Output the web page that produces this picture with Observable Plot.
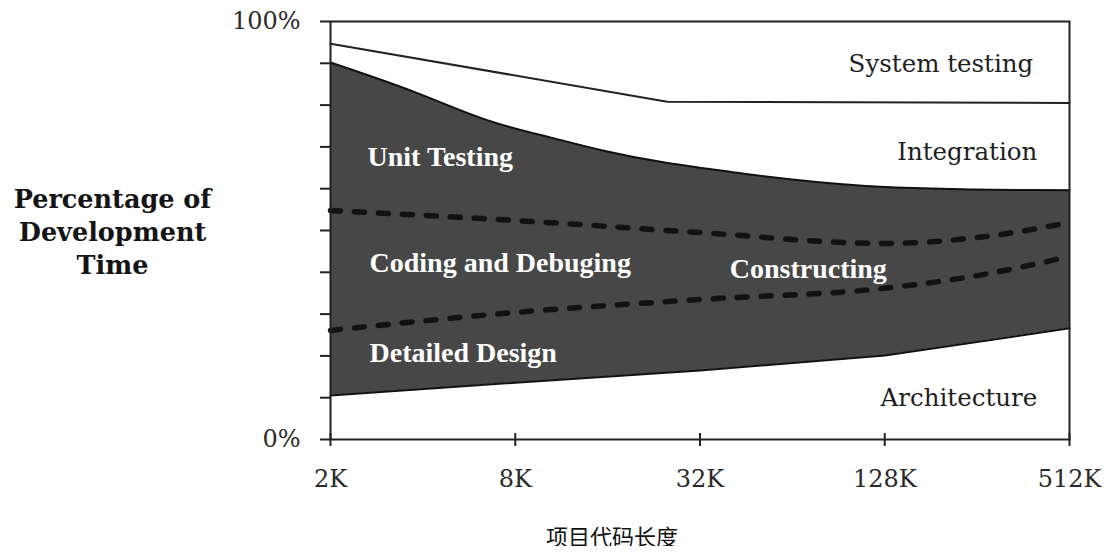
<!DOCTYPE html>
<html><head><meta charset="utf-8">
<script src="https://cdn.jsdelivr.net/npm/d3@7"></script>
<script src="https://cdn.jsdelivr.net/npm/@observablehq/plot@0.6"></script>
<style>
body{margin:0;background:#fff;}
svg{display:block}
#caption{width:992px;padding-left:116px;text-align:center;font-family:"Noto Sans CJK SC";font-size:22px;line-height:22px;color:#111;}
</style></head><body>
<div id="chart"></div>
<div id="caption">项目代码长度</div>
<script>
// Code size in K lines (x) and cumulative percentage of development time (y)
const xTicks = [2, 8, 32, 128, 512];
const xTickLabels = ["2K", "8K", "32K", "128K", "512K"];
const yTicks = [0, 10, 20, 30, 40, 50, 60, 70, 80, 90, 100];

// Boundary: below "System testing"
const systemX = [2, 25, 512];
const systemY = [94.7, 80.8, 80.5];
// Boundary: below "Integration" (top of construction)
const integrationX = [2, 3.9, 6.5, 10.6, 15.2, 25, 37, 100, 512];
const integrationY = [90.2, 83.0, 75.8, 72.2, 69.1, 66.0, 64.4, 60.0, 59.6];
// Dashed boundary: Unit Testing / Coding and Debuging
const unitX = [2, 8, 32, 128, 256, 512];
const unitY = [54.8, 52.4, 49.5, 46.9, 48.3, 51.9];
// Dashed boundary: Coding and Debuging / Detailed Design
const codingX = [2, 8, 32, 128, 256, 512];
const codingY = [26.1, 30.4, 33.5, 36.2, 39.2, 43.8];
// Boundary: top of "Architecture"
const architectureX = [2, 8, 32, 128, 512];
const architectureY = [10.5, 13.6, 16.5, 20.1, 26.6];

// Labels inside the construction band
const innerNames = ["Unit Testing", "Coding and Debuging", "Detailed Design", "Constructing"];
const innerX = [2.64, 2.68, 2.68, 40];
const innerY = [67.5, 42.3, 20.8, 40.9];
// Labels in the white bands
const outerNames = ["System testing", "Integration", "Architecture"];
const outerX = [390, 402, 402];
const outerY = [89.7, 68.7, 10.0];

const yTitle = "Percentage of\nDevelopment\nTime";

const pts = (xs, ys) => xs.map((x, i) => ({x, y: ys[i]}));
const system = pts(systemX, systemY);
const integration = pts(integrationX, integrationY);
const unit = pts(unitX, unitY);
const coding = pts(codingX, codingY);
const architecture = pts(architectureX, architectureY);
const inner = innerNames.map((t, i) => ({t, x: innerX[i], y: innerY[i]}));
const outer = outerNames.map((t, i) => ({t, x: outerX[i], y: outerY[i]}));

const serif = "DejaVu Serif";
const dark = "#474747";

const chart = Plot.plot({
  width: 1108,
  height: 524,
  marginLeft: 330,
  marginRight: 39,
  marginTop: 21,
  marginBottom: 85,
  style: {background: "white"},
  x: {type: "log", base: 2, domain: [2, 512]},
  y: {domain: [0, 100]},
  marks: [
    Plot.areaY(integration, {x: "x", y: "y", fill: dark, curve: "basis"}),
    Plot.areaY(architecture, {x: "x", y: "y", fill: "white"}),
    Plot.line(integration, {x: "x", y: "y", stroke: "#111", strokeWidth: 2, curve: "basis"}),
    Plot.line(architecture, {x: "x", y: "y", stroke: "#111", strokeWidth: 2}),
    Plot.line(system, {x: "x", y: "y", stroke: "#222", strokeWidth: 2}),
    Plot.line(unit, {x: "x", y: "y", stroke: "#121212", strokeWidth: 5.5, strokeDasharray: "10,14", strokeLinecap: "round", curve: "monotone-x"}),
    Plot.line(coding, {x: "x", y: "y", stroke: "#121212", strokeWidth: 5.5, strokeDasharray: "10,14", strokeLinecap: "round", curve: "monotone-x"}),
    Plot.frame({stroke: "#222", strokeWidth: 2}),
    Plot.axisY(yTicks, {
      tickSize: 10, tickPadding: 20, strokeWidth: 2, stroke: "#222",
      tickFormat: d => d === 0 ? "0%" : d === 100 ? "100%" : "",
      fontFamily: serif, fontSize: 24, fill: "#2a2a2a", label: null
    }),
    Plot.axisX(xTicks, {
      tickSize: 7, tickPadding: 23, strokeWidth: 2, stroke: "#222",
      tickFormat: d => xTickLabels[xTicks.indexOf(d)],
      fontFamily: serif, fontSize: 24, fill: "#2a2a2a", label: null
    }),
    Plot.tickX(xTicks, {x: d => d, insetTop: 412, stroke: "#222", strokeWidth: 2}),
    Plot.text(inner, {x: "x", y: "y", text: "t", textAnchor: "start", fill: "white",
      fontFamily: "Liberation Serif", fontWeight: "bold", fontSize: 28}),
    Plot.text(outer, {x: "x", y: "y", text: "t", textAnchor: "end", fill: "#1e1e1e",
      fontFamily: serif, fontSize: 24.5}),
    Plot.text([yTitle], {frameAnchor: "left", dx: -218, text: d => d, textAnchor: "middle",
      fontFamily: serif, fontWeight: "bold", fontSize: 25.5, lineHeight: 1.3, fill: "#141414"})
  ]
});
document.getElementById("chart").append(chart);
</script>
</body></html>
